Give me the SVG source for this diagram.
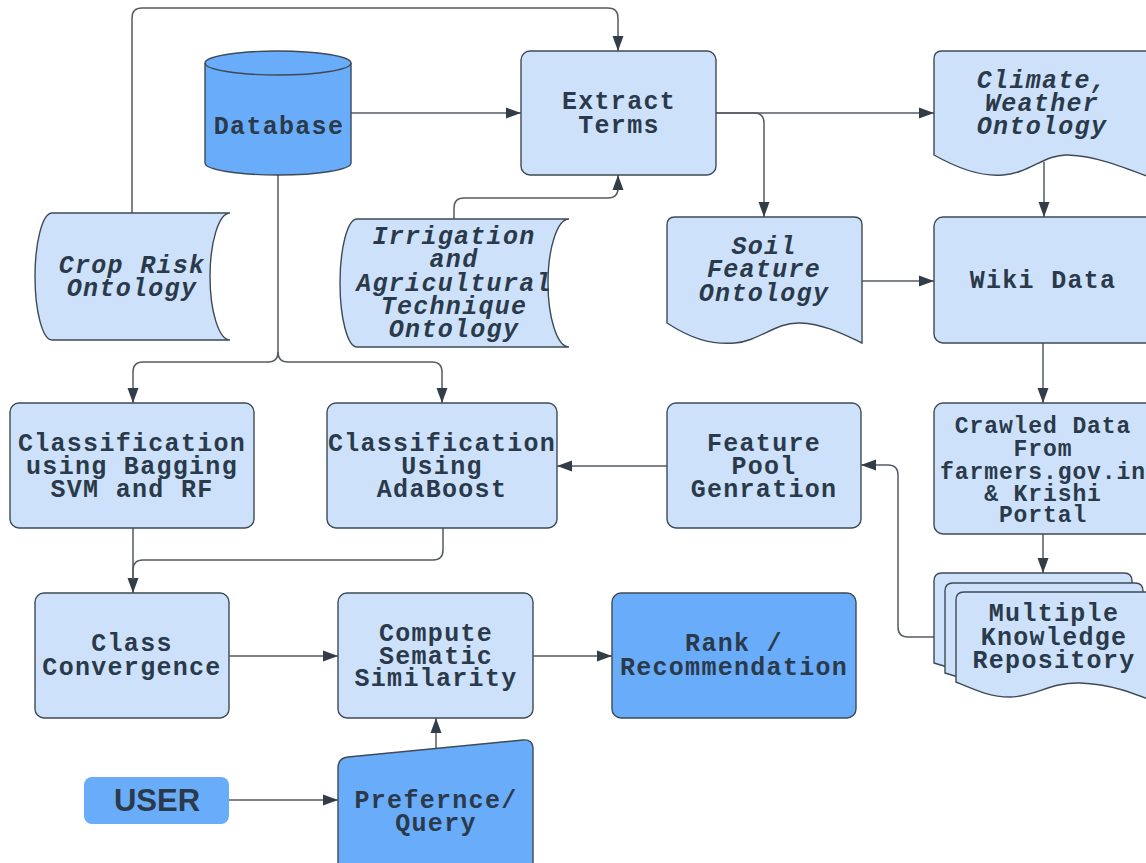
<svg xmlns="http://www.w3.org/2000/svg" width="1146" height="863" viewBox="0 0 1146 863">
<defs>
<marker id="arr" markerUnits="userSpaceOnUse" markerWidth="16" markerHeight="12" refX="15" refY="6" orient="auto">
<path d="M0,0.5 L15,6 L0,11.5 z" fill="#333d48"/>
</marker>
<style>
.lt{fill:#cde2fa;stroke:#3e4a57;stroke-width:1.4}
.dk{fill:#69acfa;stroke:#3e4a57;stroke-width:1.4}
.c{fill:none;stroke:#555b62;stroke-width:1.5;marker-end:url(#arr)}
.cn{fill:none;stroke:#555b62;stroke-width:1.5}
.t{font-family:"Liberation Mono","DejaVu Sans Mono",monospace;font-weight:bold;font-size:25px;letter-spacing:1.3px;fill:#2b3a4b;text-anchor:middle}
.i{font-style:italic}
.s{font-size:23px;letter-spacing:0.9px}
.u{font-family:"Liberation Sans",Arial,sans-serif;font-weight:bold;font-size:31px;fill:#2b3a4b;text-anchor:middle}
</style>
</defs>
<rect width="1146" height="863" fill="#ffffff"/>

<g id="connectors">
<path class="c" d="M132,213 V18 Q132,8 142,8 H608 Q618,8 618,18 V51"/>
<path class="c" d="M351,113 H521"/>
<path class="c" d="M454,219 V208 Q454,198 464,198 H608 Q618,198 618,188 V175"/>
<path class="c" d="M716,113 H934"/>
<path class="c" d="M716,113 H754 Q764,113 764,123 V217"/>
<path class="c" d="M1044,162 V217"/>
<path class="c" d="M862,281 H934"/>
<path class="c" d="M1043,343 V403"/>
<path class="c" d="M1043,534 V573"/>
<path class="c" d="M934,637 H908 Q898,637 898,627 V475 Q898,465 888,465 H861"/>
<path class="c" d="M667,466 H557"/>
<path class="c" d="M278,175 V352 Q278,362 268,362 H143 Q133,362 133,372 V403"/>
<path class="c" d="M278,352 Q278,362 288,362 H432 Q442,362 442,372 V403"/>
<path class="c" d="M133,528 V593"/>
<path class="cn" d="M443,528 V550 Q443,560 433,560 H143 Q133,560 133,570 V580"/>
<path class="c" d="M229,656 H338"/>
<path class="c" d="M533,656 H612"/>
<path class="c" d="M436,748 V718"/>
<path class="c" d="M229,800 H338"/>
</g>

<g id="database">
<path class="dk" d="M205,63 A73,12 0 0 1 351,63 V163 A73,12 0 0 1 205,163 Z"/>
<path fill="none" stroke="#3e4a57" stroke-width="1.4" d="M205,63 A73,12 0 0 0 351,63"/>
<text class="t" x="279" y="134">Database</text>
</g>

<g id="extract-terms">
<rect class="lt" x="521" y="51" width="195" height="124" rx="9"/>
<text class="t" x="619" y="109">Extract</text>
<text class="t" x="619" y="133">Terms</text>
</g>

<g id="climate">
<path class="lt" d="M942,51 H1170 V185 C1130,170 1100,156 1068,155 C1045,154 1030,173 1003,175 C980,177 957,168 934,155 V59 Q934,51 942,51 Z"/>
<text class="t i" x="1042" y="88">Climate,</text>
<text class="t i" x="1042" y="111">Weather</text>
<text class="t i" x="1042" y="134">Ontology</text>
</g>

<g id="crop-risk">
<path class="lt" d="M52,213 H230 A20,63.5 0 0 0 230,340 H52 A17,63.5 0 0 1 52,213 Z"/>
<text class="t i" x="132" y="273">Crop Risk</text>
<text class="t i" x="132" y="296">Ontology</text>
</g>

<g id="irrigation">
<path class="lt" d="M357,219 H569 A21,64 0 0 0 569,347 H357 A17,64 0 0 1 357,219 Z"/>
<text class="t i" x="454" y="244">Irrigation</text>
<text class="t i" x="454" y="267">and</text>
<text class="t i" x="454" y="291">Agricultural</text>
<text class="t i" x="454" y="314">Technique</text>
<text class="t i" x="454" y="337">Ontology</text>
</g>

<g id="soil">
<path class="lt" d="M675,217 H854 Q862,217 862,225 V343 C845,335 825,324 800,323 C775,322 760,341 735,343 C710,345 690,338 667,323 V225 Q667,217 675,217 Z"/>
<text class="t i" x="764" y="254">Soil</text>
<text class="t i" x="764" y="277">Feature</text>
<text class="t i" x="764" y="301">Ontology</text>
</g>

<g id="wiki-data">
<rect class="lt" x="934" y="217" width="222" height="126" rx="9"/>
<text class="t" x="1043" y="288">Wiki Data</text>
</g>

<g id="crawled-data">
<rect class="lt" x="934" y="403" width="222" height="131" rx="9"/>
<text class="t s" x="1043" y="433">Crawled Data</text>
<text class="t s" x="1043" y="456">From</text>
<text class="t s" x="1043" y="479">farmers.gov.in</text>
<text class="t s" x="1043" y="501">&amp; Krishi</text>
<text class="t s" x="1043" y="522">Portal</text>
</g>

<g id="knowledge-repository">
<path class="lt" d="M942,573 H1124 Q1132,573 1132,581 V680 C1110,675 1085,665 1050,668 C1010,672 985,680 934,663 V581 Q934,573 942,573 Z"/>
<path class="lt" d="M953,583 H1135 Q1143,583 1143,591 V690 C1120,684 1095,675 1060,678 C1020,682 995,690 945,673 V591 Q945,583 953,583 Z"/>
<path class="lt" d="M964,592 H1170 V708 C1140,696 1115,684 1080,683 C1050,682 1035,697 1010,697 C990,697 975,690 956,682 V600 Q956,592 964,592 Z"/>
<text class="t" x="1054" y="621">Multiple</text>
<text class="t" x="1054" y="645">Knowledge</text>
<text class="t" x="1054" y="668">Repository</text>
</g>

<g id="bagging">
<rect class="lt" x="10" y="403" width="244" height="125" rx="9"/>
<text class="t" x="132" y="451">Classification</text>
<text class="t" x="132" y="474">using Bagging</text>
<text class="t" x="132" y="497">SVM and RF</text>
</g>

<g id="adaboost">
<rect class="lt" x="327" y="403" width="230" height="125" rx="9"/>
<text class="t" x="442" y="451">Classification</text>
<text class="t" x="442" y="474">Using</text>
<text class="t" x="442" y="497">AdaBoost</text>
</g>

<g id="feature-pool">
<rect class="lt" x="667" y="403" width="194" height="125" rx="9"/>
<text class="t" x="764" y="451">Feature</text>
<text class="t" x="764" y="474">Pool</text>
<text class="t" x="764" y="497">Genration</text>
</g>

<g id="class-convergence">
<rect class="lt" x="35" y="593" width="194" height="125" rx="9"/>
<text class="t" x="132" y="651">Class</text>
<text class="t" x="132" y="675">Convergence</text>
</g>

<g id="compute-similarity">
<rect class="lt" x="338" y="593" width="195" height="125" rx="9"/>
<text class="t" x="436" y="641">Compute</text>
<text class="t" x="436" y="664">Sematic</text>
<text class="t" x="436" y="686">Similarity</text>
</g>

<g id="rank">
<rect class="dk" x="612" y="593" width="244" height="125" rx="9"/>
<text class="t" x="734" y="651">Rank /</text>
<text class="t" x="734" y="675">Recommendation</text>
</g>

<g id="preference">
<path class="dk" d="M338,875 V768 Q338,758 348,757 L523,740 Q533,739 533,749 V875 Z"/>
<text class="t" x="436" y="808">Prefernce/</text>
<text class="t" x="436" y="831">Query</text>
</g>

<g id="user">
<rect x="84" y="777" width="145" height="47" rx="8" fill="#69acfa"/>
<text class="u" x="157" y="811">USER</text>
</g>
</svg>
